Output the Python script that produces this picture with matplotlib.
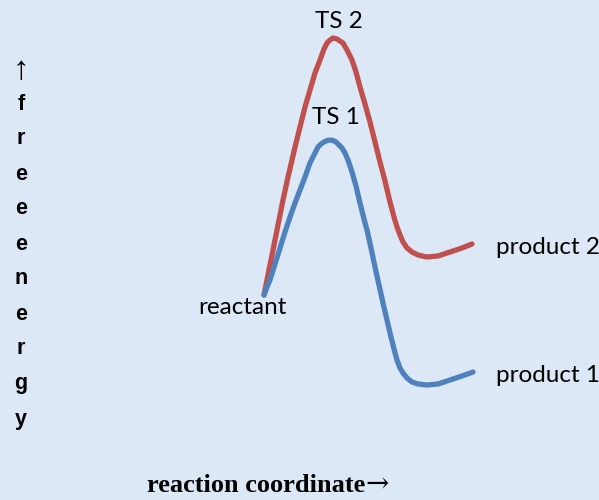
import matplotlib
matplotlib.use("Agg")
import matplotlib.pyplot as plt

# reaction coordinate (arbitrary units) and free energy relative to the reactant
coord_2 = [0, 0.2, 0.4, 0.65, 0.95, 1.2, 1.4, 1.6, 1.8, 2.05, 2.3, 2.55, 2.8, 3.0,
           3.15, 3.3, 3.45, 3.65, 3.8, 3.95, 4.15, 4.4, 4.6, 4.8, 5.05, 5.3, 5.55,
           5.8, 6.05, 6.3, 6.5, 6.65, 6.8, 6.95, 7.15, 7.4, 7.7, 8.15, 8.7, 9.3,
           9.9, 10.4]
energy_2 = [0, 2.0, 4.0, 6.5, 9.5, 11.8, 13.5, 15.2, 16.8, 18.8, 20.5, 22.2, 23.5,
            24.6, 25.2, 25.5, 25.7, 25.6, 25.4, 25.2, 24.5, 23.5, 22.3, 20.8, 19.1,
            17.3, 15.3, 13.3, 11.4, 9.3, 7.8, 6.8, 6.0, 5.3, 4.7, 4.3, 4.0, 3.8,
            3.9, 4.3, 4.7, 5.1]

coord_1 = [0, 0.15, 0.3, 0.55, 0.8, 1.05, 1.3, 1.55, 1.8, 2.05, 2.3, 2.5, 2.7, 2.85,
           3.0, 3.15, 3.3, 3.45, 3.6, 3.75, 3.9, 4.05, 4.2, 4.4, 4.6, 4.8, 5.0,
           5.15, 5.35, 5.55, 5.75, 5.95, 6.15, 6.3, 6.5, 6.65, 6.8, 6.95, 7.15,
           7.4, 7.7, 8.15, 8.7, 9.3, 9.9, 10.45]
energy_1 = [0, 0.8, 1.5, 3.1, 4.7, 6.3, 7.8, 9.2, 10.5, 11.8, 13.2, 14.0, 14.8, 15.1,
            15.3, 15.45, 15.5, 15.45, 15.3, 15.0, 14.7, 14.2, 13.5, 12.3, 10.9, 9.2,
            7.6, 6.5, 4.7, 2.8, 1.0, -0.8, -2.5, -3.8, -5.4, -6.5, -7.3, -7.8,
            -8.3, -8.7, -8.9, -9.0, -8.9, -8.5, -8.1, -7.7]

labels = ["TS 2", "TS 1", "product 2", "product 1", "reactant"]

bg = "#dce8f5"
fig = plt.figure(figsize=(5.99, 5.0), dpi=100)
fig.patch.set_facecolor(bg)
ax = fig.add_axes([0, 0, 1, 1])
ax.set_facecolor(bg)
ax.set_xlim(-13.2, 16.75)
ax.set_ylim(-20.5, 29.5)
ax.axis("off")

ax.plot(coord_2, energy_2, color="#c0504d", lw=3.8, solid_capstyle="round",
        solid_joinstyle="round")
ax.plot(coord_1, energy_1, color="#4f81bd", lw=3.8, solid_capstyle="round",
        solid_joinstyle="round")

fnt = dict(family="Lato", fontsize=17.5, color="black")
ax.text(3.75, 27.3, labels[0], ha="center", va="center", **fnt)
ax.text(3.6, 17.8, labels[1], ha="center", va="center", **fnt)
ax.text(11.6, 4.8, labels[2], ha="left", va="center", **fnt)
ax.text(11.6, -8.1, labels[3], ha="left", va="center", **fnt)
ax.text(-1.1, -1.3, labels[4], ha="center", va="center", **fnt)

# vertical axis label, one letter per line
fig.text(21 / 599, 1 - 71 / 500, "↑", ha="center", va="center",
         fontsize=24, family="Liberation Sans")
for i, ch in enumerate("freeenergy"):
    fig.text(21 / 599, 1 - (104 + i * 35) / 500, ch, ha="center", va="center",
             fontsize=15.5, fontweight="bold", family="Liberation Sans")

fig.text(365 / 599, 1 - 492 / 500, "reaction coordinate", ha="right", va="baseline",
         fontsize=19, fontweight="bold", family="Liberation Serif")
fig.text(365 / 599, 1 - 492 / 500, "→", ha="left", va="baseline",
         fontsize=20, family="DejaVu Serif")

fig.savefig("out.png", dpi=100, facecolor=fig.get_facecolor())
